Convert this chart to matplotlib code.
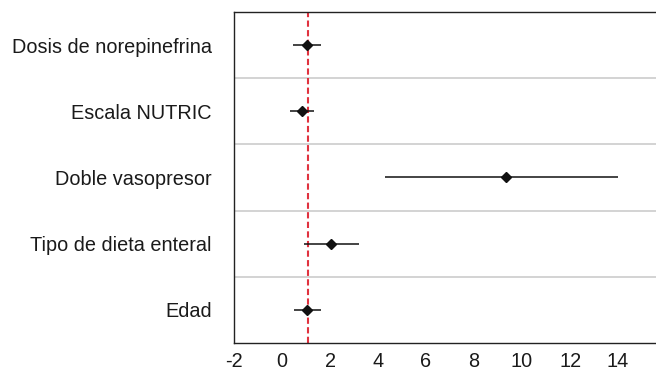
import numpy as np
import matplotlib.pyplot as plt

# Forest plot data (odds ratio with 95% CI)
categorias = ['Dosis de norepinefrina', 'Escala NUTRIC', 'Doble vasopresor',
              'Tipo de dieta enteral', 'Edad']
or_vals = [1.05, 0.85, 9.35, 2.05, 1.05]
ic_inf = [0.45, 0.35, 4.3, 0.92, 0.5]
ic_sup = [1.62, 1.35, 14.0, 3.2, 1.62]
ticks_x = [-2, 0, 2, 4, 6, 8, 10, 12, 14]

def draw_plot():
    plt.rcParams['font.family'] = ['Liberation Sans', 'DejaVu Sans']
    plt.rcParams['axes.unicode_minus'] = False
    fig = plt.figure(figsize=(6.56, 3.71), dpi=100)
    ax = fig.add_axes([0.3567, 0.0755, 0.6433, 0.8922])

    y = np.arange(len(categorias))[::-1]
    or_arr = np.array(or_vals)
    err = [or_arr - np.array(ic_inf), np.array(ic_sup) - or_arr]

    # Separator lines between rows
    for yy in np.arange(0.5, len(categorias) - 0.5):
        ax.axhline(yy, color='#cccccc', lw=1.2, zorder=1)

    # Reference line at OR = 1
    ax.axvline(1.1, color='#e0323f', lw=1.5, ls=(0, (3, 1.6)), zorder=2)

    # Points and confidence intervals
    ax.errorbar(or_arr, y, xerr=err, fmt='D', color='#111111', ms=5,
                elinewidth=1.1, capsize=0, zorder=3)

    ax.set_xlim(-2, 15.58)
    ax.set_ylim(-0.5, len(categorias) - 0.5)
    ax.set_xticks(ticks_x)
    ax.set_yticks(y)
    ax.set_yticklabels(categorias)
    ax.tick_params(axis='both', length=0, labelsize=14.3, colors='#1a1a1a')
    ax.tick_params(axis='y', pad=16)
    ax.tick_params(axis='x', pad=6.5)

    ax.spines['right'].set_visible(False)
    for s in ['left', 'bottom', 'top']:
        ax.spines[s].set_color('#222222')
        ax.spines[s].set_linewidth(1.0)

    plt.savefig('out.png', dpi=100)
    return ax

draw_plot()
